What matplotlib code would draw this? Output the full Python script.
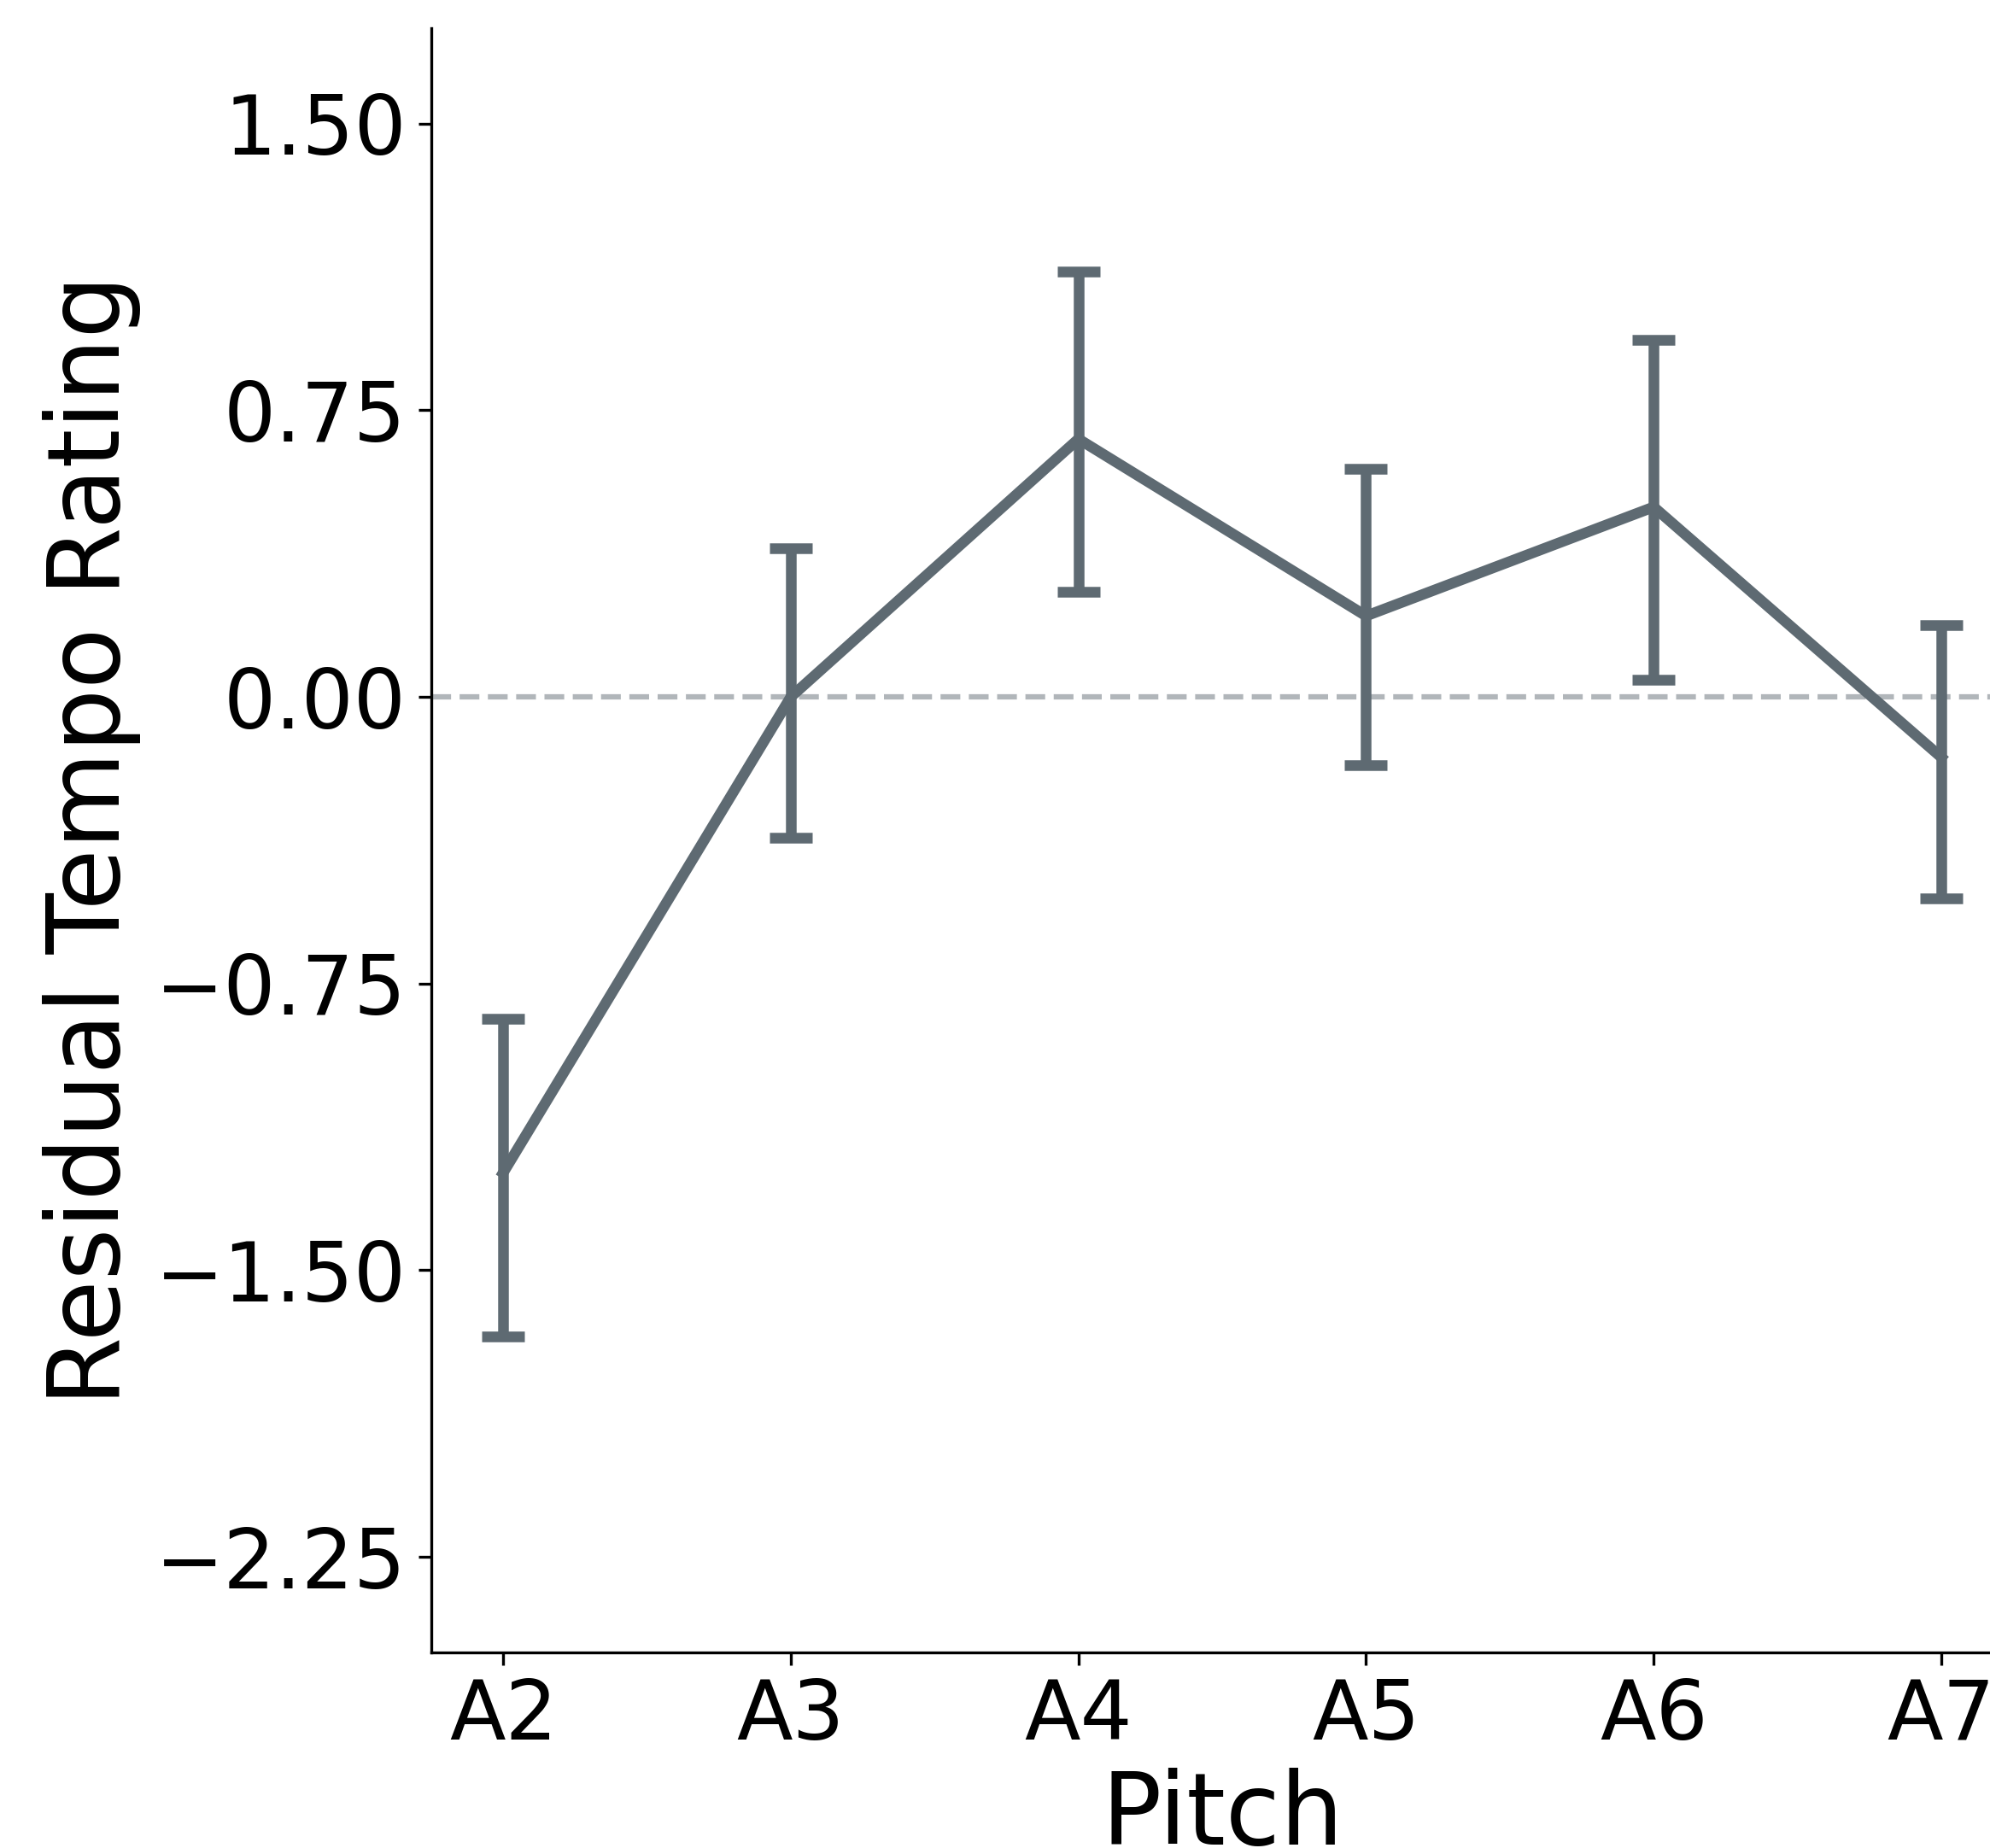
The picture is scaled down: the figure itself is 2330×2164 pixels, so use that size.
import matplotlib.pyplot as plt
import numpy as np

# residual tempo ratings per pitch, with lower/upper error bounds
pitches = ["A2", "A3", "A4", "A5", "A6", "A7"]
means = np.array([-1.245, 0.0, 0.675, 0.212, 0.497, -0.158])
lower = np.array([-1.674, -0.369, 0.275, -0.179, 0.045, -0.528])
upper = np.array([-0.842, 0.390, 1.113, 0.597, 0.935, 0.187])
yticks = [-2.25, -1.50, -0.75, 0.00, 0.75, 1.50]

line_color = "#5e6a72"

fig = plt.figure(figsize=(2330 / 300, 2164 / 300), dpi=300)
ax = fig.add_axes([0.2167, 0.1058, 0.795, 0.879])

x = np.arange(len(pitches))
yerr = np.vstack([means - lower, upper - means])
ax.axhline(0, color="#b1b6ba", lw=1.5, ls="--", zorder=1)
ax.errorbar(x, means, yerr=yerr, color=line_color, lw=3, capsize=6,
            capthick=3, elinewidth=3, zorder=2)

ax.set_xlim(-0.25, 5.25)
ax.set_ylim(-2.5, 1.75)
ax.set_xticks(x)
ax.set_xticklabels(pitches)
ax.set_yticks(yticks)
ax.tick_params(labelsize=23)
ax.set_xlabel("Pitch", fontsize=28, labelpad=3)
ax.set_ylabel("Residual Tempo Rating", fontsize=28)
ax.spines["top"].set_visible(False)
ax.spines["right"].set_visible(False)

fig.savefig("out.png", dpi=300)
